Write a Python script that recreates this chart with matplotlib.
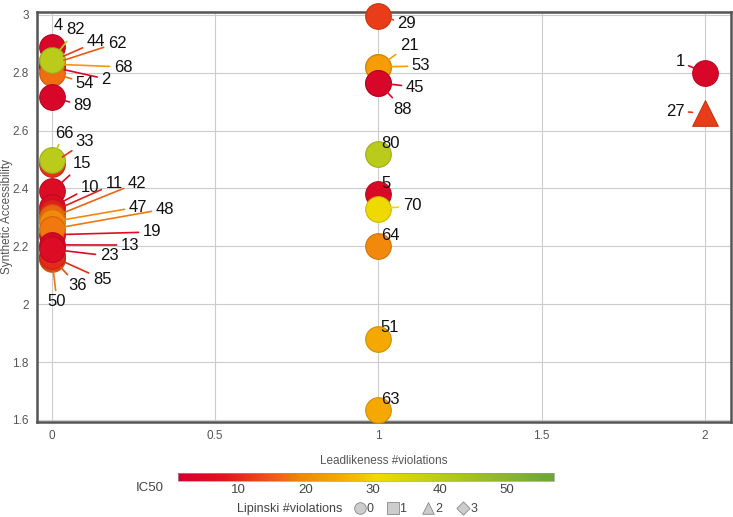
import matplotlib

matplotlib.use("Agg")
import matplotlib.pyplot as plt
from matplotlib.colors import LinearSegmentedColormap, Normalize, to_rgb
from matplotlib.cm import ScalarMappable
from matplotlib.ticker import FormatStrFormatter

plt.rcParams["font.family"] = ["Liberation Sans", "DejaVu Sans"]

# compound id, leadlikeness violations, synthetic accessibility, IC50, Lipinski violations
# (listed in drawing order: later entries sit on top)
ids = ["4", "44", "62", "68", "2", "54", "82", "89",
       "33", "66", "15",
       "50", "36", "85", "10", "11", "42", "47", "19", "48", "13", "23",
       "29", "21", "53", "88", "45", "80", "5", "70", "64", "51", "63",
       "1", "27"]
lead = [0, 0, 0, 0, 0, 0, 0, 0,
        0, 0, 0,
        0, 0, 0, 0, 0, 0, 0, 0, 0, 0, 0,
        1, 1, 1, 1, 1, 1, 1, 1, 1, 1, 1,
        2, 2]
sa = [2.89, 2.84, 2.83, 2.83, 2.82, 2.80, 2.845, 2.717,
      2.485, 2.50, 2.39,
      2.155, 2.16, 2.165, 2.335, 2.32, 2.30, 2.285, 2.24, 2.26, 2.205, 2.19,
      2.995, 2.82, 2.82, 2.765, 2.765, 2.52, 2.38, 2.33, 2.20, 1.88, 1.635,
      2.80, 2.66]
ic50 = [3, 12, 15, 22, 4, 17, 40, 3,
        11, 40, 5,
        18, 14, 10, 5, 9, 16, 20, 6, 18, 4, 5,
        12, 24, 23, 5, 3, 40, 4, 31, 20, 25, 25,
        3, 12]
lipinski = [0, 0, 0, 0, 0, 0, 0, 0,
            0, 0, 0,
            0, 0, 0, 0, 0, 0, 0, 0, 0, 0, 0,
            0, 0, 0, 0, 0, 0, 0, 0, 0, 0, 0,
            0, 2]

# label placement (figure pixels from top-left); some labels have no leader line
label_pos = {
    "4": (58, 25), "82": (76, 30), "44": (96, 42), "62": (117, 43), "68": (123, 67),
    "2": (106, 79), "54": (85, 83), "89": (83, 106), "66": (64, 133), "33": (85, 142),
    "15": (82, 164), "10": (90, 187), "11": (114, 184), "42": (137, 183),
    "47": (138, 207), "48": (165, 209), "19": (152, 232), "13": (130, 245),
    "23": (109, 256), "85": (102, 279), "36": (78, 286), "50": (57, 302),
    "29": (407, 23), "21": (409, 45), "53": (421, 66), "45": (415, 87),
    "88": (403, 109), "80": (390, 143), "5": (386, 183), "70": (412, 206),
    "64": (390, 235), "51": (390, 328), "63": (390, 399),
    "1": (680, 62), "27": (675, 111),
}
no_leader = {"80", "5", "64", "51", "63"}

W, H = 733, 517
cmap = LinearSegmentedColormap.from_list(
    "ic50",
    [(0.0, "#d4002c"), (0.12, "#e0141e"), (0.22, "#ea4a16"), (0.33, "#f3860c"),
     (0.45, "#f6b000"), (0.53, "#f0da00"), (0.70, "#b9cb1c"), (1.0, "#68a834")])
norm = Normalize(vmin=1, vmax=57)
markers = {0: "o", 1: "s", 2: "^", 3: "D"}

fig = plt.figure(figsize=(W / 100, H / 100), dpi=100)
ax = fig.add_axes([37 / W, 1 - 422 / H, (731 - 37) / W, (422 - 12) / H])
ax.set_xlim(-0.046, 2.08)
ax.set_ylim(1.593, 3.01)
ax.set_xticks([0, 0.5, 1, 1.5, 2])
ax.xaxis.set_major_formatter(FormatStrFormatter("%g"))
ax.set_yticks([1.6, 1.8, 2.0, 2.2, 2.4, 2.6, 2.8, 3.0])
ax.yaxis.set_major_formatter(FormatStrFormatter("%g"))
ax.tick_params(length=0, labelsize=8.5, labelcolor="#555555", pad=6)
ax.grid(True, color="#cccccc", lw=0.8)
ax.set_axisbelow(True)
for sp in ax.spines.values():
    sp.set_color("#555555")
    sp.set_linewidth(1.8)
ax.set_xlabel("Leadlikeness #violations", fontsize=8.5, color="#555555", labelpad=9)
ax.set_ylabel("Synthetic Accessibility", fontsize=8.5, color="#555555")
ax.yaxis.set_label_coords(-0.034, 0.5)

for i, cid in enumerate(ids):
    face = cmap(norm(ic50[i]))
    edge = tuple(c * 0.85 for c in to_rgb(face))
    ax.scatter(lead[i], sa[i], s=340, marker=markers[lipinski[i]], color=face,
               edgecolors=[edge], linewidths=0.8, zorder=3, clip_on=False)

for i, cid in enumerate(ids):
    px, py = label_pos[cid]
    face = cmap(norm(ic50[i]))
    arrow = None if cid in no_leader else dict(arrowstyle="-", color=face, lw=1.2,
                                               shrinkA=1, shrinkB=9)
    ax.annotate(cid, xy=(lead[i], sa[i]), xytext=(px, H - py),
                textcoords="figure pixels", ha="center", va="center",
                fontsize=12, color="#111111", arrowprops=arrow, zorder=4,
                annotation_clip=False)

# colour bar for IC50
cax = fig.add_axes([178 / W, 1 - 481 / H, (554 - 178) / W, 8 / H])
cb = fig.colorbar(ScalarMappable(norm=norm, cmap=cmap), cax=cax, orientation="horizontal")
cb.set_ticks([10, 20, 30, 40, 50])
cb.outline.set_edgecolor("#999999")
cb.outline.set_linewidth(0.5)
cax.tick_params(length=0, labelsize=9.5, labelcolor="#444444", pad=2)
fig.text(150 / W, 1 - 488 / H, "IC50", ha="center", va="center", fontsize=9.5, color="#444444")

# shape legend for Lipinski violations
lax = fig.add_axes([0, 0, 1, 1], facecolor="none")
lax.set_xlim(0, W)
lax.set_ylim(H, 0)
lax.axis("off")
lax.text(290, 509, "Lipinski #violations", ha="center", va="center", fontsize=9, color="#444444")
for k, (mx, tx) in enumerate([(360, 370), (393, 403), (428, 439), (463, 474)]):
    lax.scatter(mx, 508, s=70 if k != 3 else 45, marker=markers[k], color="#cccccc",
                edgecolors="#888888", linewidths=0.6)
    lax.text(tx, 509, str(k), ha="center", va="center", fontsize=9, color="#444444")

fig.savefig("out.png", dpi=100, facecolor="white")
